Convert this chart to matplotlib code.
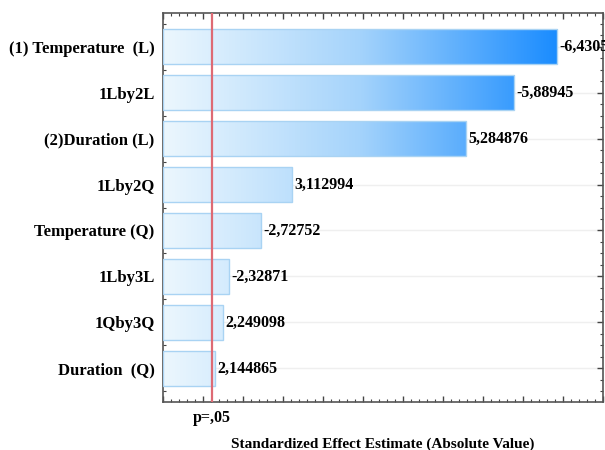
import numpy as np
import matplotlib.pyplot as plt
from matplotlib.colors import LinearSegmentedColormap
from matplotlib.patches import Rectangle
from matplotlib.ticker import MultipleLocator, NullFormatter

# Pareto chart of standardized effects
terms = ['(1) Temperature  (L)', '1Lby2L', '(2)Duration (L)', '1Lby2Q',
         'Temperature (Q)', '1Lby3L', '1Qby3Q', 'Duration  (Q)']
effects = [-6.43052, -5.88945, 5.284876, 3.112994,
           -2.72752, -2.32871, 2.249098, 2.144865]
p_crit = 2.11  # t value for p = 0.05

plt.rcParams['font.family'] = ['Liberation Serif', 'DejaVu Serif']
plt.rcParams['font.weight'] = 'bold'

fig = plt.figure(figsize=(6.05, 4.5), dpi=100)
ax = fig.add_axes([163 / 605, 48 / 450, 440 / 605, 389 / 450])

x_lo, x_hi = 1.5, 7.0
bar_h = 0.78
cmap = LinearSegmentedColormap.from_list('blues', ['#ecf7fe', '#a4d3fb', '#1a8cff'])
grad = np.linspace(0, 1, 256).reshape(1, -1)
grad_end = max(abs(e) for e in effects)

ypos = np.arange(len(terms))
for y, e in zip(ypos, effects):
    val = abs(e)
    rect = Rectangle((x_lo, y - bar_h / 2), val - x_lo, bar_h,
                     facecolor='none', edgecolor='#a9d3f3', linewidth=1, zorder=3)
    ax.add_patch(rect)
    im = ax.imshow(grad, cmap=cmap, aspect='auto', zorder=2,
                   extent=(x_lo, grad_end, y + bar_h / 2, y - bar_h / 2))
    im.set_clip_path(rect)
    label = '{:.7g}'.format(e).replace('.', ',')
    ax.text(val + 0.03, y, label, va='center', ha='left', fontsize=11.5,
            fontweight='bold', clip_on=False)

ax.axvline(p_crit, color='#de6a74', linewidth=1.6, zorder=4)

ax.set_xlim(x_lo, x_hi)
ax.set_ylim(len(terms) - 1 + 0.73, -0.73)
ax.set_yticks(ypos)
ax.set_yticklabels(terms, fontsize=12, fontweight='bold')
ax.yaxis.set_minor_locator(MultipleLocator(0.25))
ax.xaxis.set_major_locator(MultipleLocator(0.5))
ax.xaxis.set_minor_locator(MultipleLocator(0.1))
ax.xaxis.set_major_formatter(NullFormatter())
ax.tick_params(which='both', direction='in', top=True, right=True,
               color='#444444')
ax.tick_params(which='major', length=4, width=1)
ax.tick_params(which='minor', length=2, width=0.8)
ax.tick_params(axis='y', which='major', pad=6)
ax.grid(axis='y', color='#efefef', linewidth=1, zorder=0)
for s in ax.spines.values():
    s.set_color('#555555')
    s.set_linewidth(1.2)

ax.text(p_crit, -0.02, 'p=,05', transform=ax.get_xaxis_transform(),
        ha='center', va='top', fontsize=11.5, fontweight='bold')
ax.set_xlabel('Standardized Effect Estimate (Absolute Value)',
              fontsize=11, fontweight='bold', labelpad=22)

fig.savefig('out.png', dpi=100)
